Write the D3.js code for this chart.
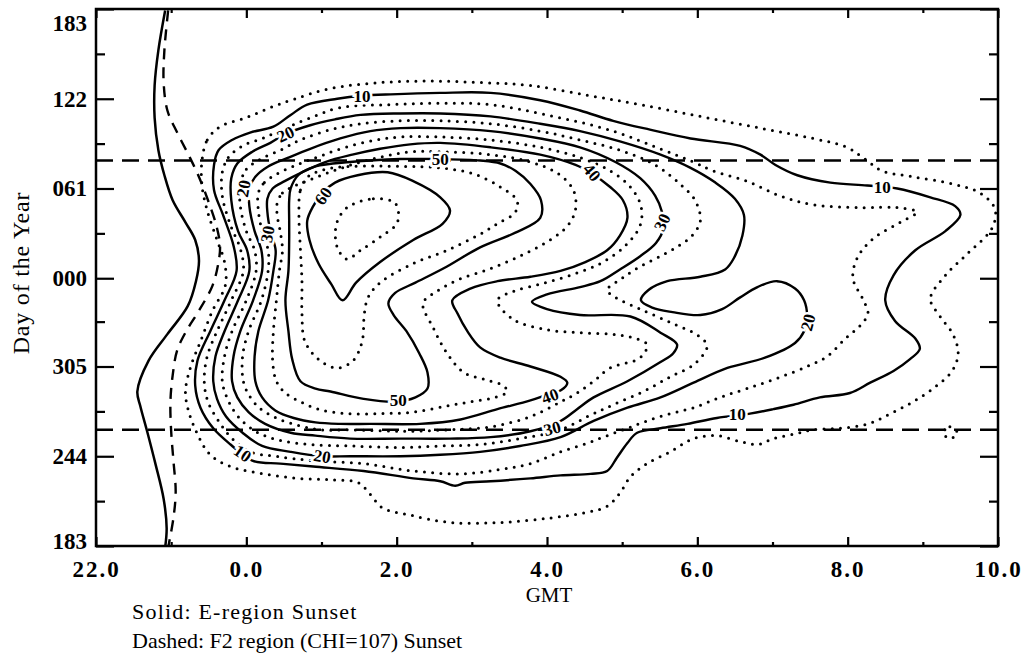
<!DOCTYPE html>
<html>
<head>
<meta charset="utf-8">
<script src="https://cdn.jsdelivr.net/npm/d3@7"></script>
<style>
  body { margin: 0; background: #fff; }
  text { font-family: "Liberation Serif", "DejaVu Serif", serif; fill: #000; }
</style>
</head>
<body>
<svg id="chart" width="1026" height="664"></svg>
<script>
// x = hours GMT (22.0 is written -2), y = day of year (days of the previous year negative: 305 -> -60)
var xTickVals = [-2, 0, 2, 4, 6, 8, 10];
var xTickText = ["22.0", "0.0", "2.0", "4.0", "6.0", "8.0", "10.0"];
var yTickVals = [-182, -121, -60, 0, 61, 122, 183];
var yTickText = ["183", "244", "305", "000", "061", "122", "183"];
var equinoxDays = [80, -103];

var eSunset = [[-1.08,182],[-1.17,155],[-1.22,131],[-1.22,109],[-1.17,87],[-1.09,70],[-0.98,53],[-0.81,38],[-0.68,26],[-0.63,12],[-0.67,-2],[-0.78,-19],[-1.05,-38],[-1.30,-56],[-1.45,-77],[-1.41,-87],[-1.32,-104],[-1.21,-126],[-1.10,-150],[-1.06,-170],[-1.08,-183]];
var f2Sunset = [[-1.04,182],[-1.09,155],[-1.10,133],[-1.05,114],[-0.92,99],[-0.77,84],[-0.64,70],[-0.51,53],[-0.40,36],[-0.35,22],[-0.37,11],[-0.45,-5],[-0.63,-22],[-0.80,-36],[-0.92,-49],[-0.98,-66],[-1.01,-84],[-1.00,-104],[-0.97,-124],[-0.94,-145],[-0.97,-163],[-1.04,-183]];

// contour lines, one array per level
var c05 = [[-0.59,80],[-0.52,94],[-0.35,103],[-0.01,109],[0.32,116],[0.65,122],[1.12,129],[1.78,133],[2.45,134],[3.11,133],[3.78,131],[4.58,124],[5.24,118],[6.04,110],[6.84,102],[7.54,95],[7.99,89],[8.23,81],[8.46,73],[8.87,69],[9.40,64],[9.76,58],[9.96,47],[9.92,34],[9.60,17],[9.30,2],[9.10,-14],[9.23,-26],[9.40,-38],[9.47,-51],[9.39,-63],[9.16,-74],[8.87,-84],[8.57,-92],[8.27,-99],[7.90,-102],[7.54,-103],[7.28,-106],[7.01,-109],[6.80,-113],[6.57,-111],[6.26,-107],[5.95,-109],[5.64,-118],[5.33,-126],[5.11,-135],[4.97,-146],[4.80,-155],[4.54,-159],[4.04,-163],[3.38,-166],[2.71,-166],[2.18,-161],[1.81,-156],[1.65,-147],[1.49,-139],[1.12,-137],[0.68,-136],[0.23,-133],[-0.21,-128],[-0.48,-120],[-0.65,-106],[-0.77,-90],[-0.81,-77],[-0.74,-60],[-0.61,-43],[-0.45,-22],[-0.28,-5],[-0.29,11],[-0.39,26],[-0.52,46],[-0.59,63]];
var c05b = [[9.27,-105],[9.36,-101],[9.46,-105],[9.36,-109]];
var c10 = [[-0.43,77],[-0.37,87],[-0.19,94],[0.05,99],[0.36,103],[0.59,111],[0.81,118],[1.21,122],[1.54,124],[1.92,125],[2.58,126],[3.25,126],[3.91,121],[4.44,114],[4.88,107],[5.37,101],[5.91,95],[6.57,90],[6.84,84],[7.04,77],[7.33,70],[7.77,65],[8.26,63],[8.66,61],[9.10,55],[9.43,49],[9.50,43],[9.30,32],[8.90,19],[8.61,2],[8.50,-15],[8.63,-29],[8.90,-41],[8.96,-48],[8.83,-55],[8.61,-63],[8.30,-71],[8.03,-78],[7.63,-81],[7.28,-86],[7.01,-89],[6.70,-92],[6.26,-95],[5.87,-99],[5.51,-102],[5.20,-105],[5.07,-112],[4.93,-122],[4.80,-131],[4.58,-133],[4.18,-134],[3.78,-136],[3.25,-138],[2.91,-139],[2.78,-141],[2.58,-138],[2.22,-136],[1.56,-131],[0.89,-128],[0.45,-126],[0.08,-124],[-0.21,-113],[-0.44,-102],[-0.61,-88],[-0.68,-73],[-0.65,-56],[-0.48,-36],[-0.29,-15],[-0.13,5],[-0.17,22],[-0.31,43],[-0.43,60]];
var c15 = [[-0.32,72],[-0.24,82],[-0.05,90],[0.21,95],[0.52,102],[0.85,109],[1.25,116],[1.92,118],[2.58,119],[3.25,118],[4.00,111],[4.88,100],[5.55,87],[5.95,79],[6.21,73],[6.66,66],[7.10,56],[7.54,50],[8.21,48],[8.66,48],[8.92,45],[8.70,38],[8.34,27],[8.13,14],[8.07,0],[8.21,-15],[8.27,-24],[8.17,-32],[7.97,-41],[7.73,-53],[7.46,-60],[7.06,-68],[6.66,-75],[6.30,-81],[5.95,-88],[5.64,-92],[5.33,-97],[5.07,-102],[4.80,-107],[4.54,-112],[4.18,-118],[3.78,-126],[3.38,-130],[2.85,-133],[2.22,-131],[1.56,-126],[0.89,-124],[0.39,-121],[0.05,-118],[-0.19,-109],[-0.37,-97],[-0.51,-84],[-0.56,-70],[-0.52,-53],[-0.39,-36],[-0.20,-15],[-0.04,5],[-0.08,20],[-0.21,36],[-0.32,56]];
var c20 = [[-0.20,68],[-0.12,78],[0.08,86],[0.32,92],[0.52,98],[0.85,104],[1.18,108],[1.52,111],[2.05,112],[2.58,112],[3.25,110],[3.91,105],[4.44,100],[4.97,93],[5.51,84],[5.91,75],[6.24,65],[6.50,54],[6.62,43],[6.60,29],[6.50,15],[6.37,6],[6.04,1],[5.60,-2],[5.35,-8],[5.25,-15],[5.40,-20],[5.67,-23],[6.04,-25],[6.33,-21],[6.57,-13],[6.80,-6],[7.06,-2],[7.30,-7],[7.42,-15],[7.46,-26],[7.42,-36],[7.30,-44],[6.90,-54],[6.40,-61],[5.95,-71],[5.51,-81],[5.07,-88],[4.62,-97],[4.18,-108],[3.64,-114],[3.11,-118],[2.58,-120],[2.05,-121],[1.38,-121],[1.01,-121],[0.59,-118],[0.21,-114],[-0.05,-105],[-0.27,-94],[-0.39,-82],[-0.44,-70],[-0.41,-53],[-0.29,-36],[-0.11,-15],[0.04,5],[0.01,19],[-0.11,32],[-0.20,53]];
var c25 = [[-0.08,64],[0,74],[0.19,81],[0.45,87],[0.72,94],[1.12,101],[1.52,105],[2.05,107],[2.58,107],[3.25,105],[3.91,100],[4.44,94],[4.97,87],[5.44,77],[5.77,64],[5.97,53],[6.04,39],[5.93,29],[5.75,22],[5.51,15],[5.24,8],[5.00,0],[4.80,-8],[4.91,-13],[5.24,-21],[5.64,-30],[6.01,-39],[6.13,-46],[5.97,-58],[5.64,-67],[5.28,-77],[4.88,-86],[4.58,-93],[4.18,-103],[3.64,-109],[3.11,-113],[2.58,-114],[2.05,-115],[1.38,-114],[0.85,-113],[0.43,-110],[0.12,-104],[-0.11,-94],[-0.25,-82],[-0.32,-70],[-0.29,-53],[-0.19,-36],[0,-15],[0.13,5],[0.11,19],[0,32],[-0.08,49]];
var c30 = [[0.04,61],[0.12,69],[0.29,76],[0.56,82],[0.85,88],[1.25,95],[1.65,100],[2.05,102],[2.58,102],[3.25,100],[3.91,95],[4.44,89],[4.91,79],[5.24,68],[5.44,56],[5.53,45],[5.55,34],[5.45,24],[5.24,15],[4.97,6],[4.71,-2],[4.44,-6],[4.00,-11],[3.80,-16],[4.00,-21],[4.44,-25],[5.11,-26],[5.51,-37],[5.73,-45],[5.68,-51],[5.51,-57],[5.07,-70],[4.62,-81],[4.40,-89],[4.18,-97],[3.78,-104],[3.25,-108],[2.71,-109],[2.05,-109],[1.38,-109],[0.92,-107],[0.59,-105],[0.25,-99],[0.03,-91],[-0.12,-81],[-0.19,-70],[-0.17,-53],[-0.08,-36],[0.09,-15],[0.21,5],[0.20,19],[0.11,32],[0.04,49]];
var c35 = [[0.16,58],[0.24,65],[0.41,71],[0.67,77],[0.98,83],[1.32,89],[1.72,94],[2.05,96],[2.58,96],[3.25,94],[3.91,89],[4.44,82],[4.84,73],[5.11,62],[5.25,49],[5.24,36],[5.04,22],[4.71,10],[4.31,2],[3.91,-4],[3.55,-9],[3.34,-15],[3.55,-28],[4.00,-35],[4.44,-37],[4.84,-38],[5.11,-40],[5.33,-45],[5.24,-54],[4.84,-61],[4.62,-70],[4.40,-78],[4.18,-84],[3.78,-94],[3.25,-101],[2.71,-103],[2.05,-104],[1.38,-103],[0.98,-103],[0.69,-100],[0.40,-95],[0.17,-88],[0.03,-79],[-0.04,-70],[-0.05,-53],[0.03,-36],[0.20,-15],[0.29,5],[0.29,19],[0.21,32],[0.16,46]];
var c40 = [[0.28,54],[0.35,61],[0.51,66],[0.74,72],[1.05,79],[1.41,84],[1.78,88],[2.18,91],[2.58,92],[3.25,89],[3.91,84],[4.38,77],[4.60,71],[4.84,62],[5.01,53],[5.07,41],[4.97,29],[4.80,19],[4.51,11],[4.18,5],[3.78,1],[3.34,-2],[2.98,-7],[2.74,-15],[2.81,-24],[2.94,-36],[3.11,-47],[3.38,-54],[3.78,-60],[4.18,-67],[4.27,-71],[4.19,-76],[4.01,-79],[3.78,-83],[3.34,-89],[2.85,-96],[2.31,-99],[1.65,-99],[1.25,-99],[0.92,-98],[0.63,-95],[0.39,-90],[0.21,-81],[0.12,-70],[0.11,-53],[0.16,-36],[0.29,-15],[0.36,5],[0.39,19],[0.32,32],[0.28,45]];
var c45 = [[0.41,51],[0.48,58],[0.61,62],[0.85,67],[1.16,73],[1.52,79],[1.85,83],[2.18,86],[2.58,86],[3.25,84],[3.78,79],[4.15,71],[4.35,60],[4.38,47],[4.28,36],[4.04,26],[3.64,15],[3.22,6],[2.82,-1],[2.53,-9],[2.35,-17],[2.49,-34],[2.67,-51],[2.89,-64],[3.18,-69],[3.42,-73],[3.47,-77],[3.31,-81],[2.98,-84],[2.65,-87],[2.22,-91],[1.78,-92],[1.32,-92],[0.96,-89],[0.72,-84],[0.52,-78],[0.40,-70],[0.35,-56],[0.36,-36],[0.40,-15],[0.44,5],[0.48,19],[0.45,32],[0.41,43]];
var c50 = [[0.57,53],[0.59,61],[0.69,70],[0.92,76],[1.38,79],[2.05,81],[2.58,81],[3.11,80],[3.38,78],[3.58,73],[3.78,64],[3.92,53],[3.91,41],[3.58,31],[3.11,21],[2.67,8],[2.25,-3],[1.98,-10],[1.89,-17],[1.96,-25],[2.13,-36],[2.30,-51],[2.41,-64],[2.41,-75],[2.25,-81],[1.98,-84],[1.56,-82],[1.12,-77],[0.92,-75],[0.72,-70],[0.61,-55],[0.56,-36],[0.52,-15],[0.56,5],[0.57,26],[0.57,39]];
var c55 = [[0.70,43],[0.72,60],[0.82,69],[1.05,74],[1.38,76],[2.05,76],[2.58,75],[3.02,71],[3.38,62],[3.60,53],[3.58,45],[3.34,37],[3.11,30],[2.67,19],[2.22,10],[1.78,-3],[1.62,-13],[1.57,-24],[1.54,-43],[1.42,-56],[1.21,-61],[0.98,-56],[0.78,-43],[0.74,-24],[0.74,-2],[0.72,19]];
var c60 = [[0.89,49],[1.01,58],[1.18,65],[1.48,70],[1.88,72],[2.22,66],[2.58,55],[2.71,46],[2.61,37],[2.22,26],[1.78,11],[1.46,-3],[1.28,-15],[1.13,-4],[0.96,10],[0.84,26],[0.81,39]];
var c65 = [[1.34,48],[1.69,54],[1.98,51],[2.01,38],[1.78,28],[1.52,19],[1.34,13],[1.21,21],[1.20,37]];

var labelText = ["10","20","50","60","40","30","10","20","10","30","40","50","20","10","20","30"];
var labelPos = [[1.54,124],[0.52,98],[2.58,81],[1.02,56],[4.60,72],[5.53,38],[8.46,62],[7.47,-30],[6.53,-92],[4.07,-102],[4.04,-80],[2.02,-83],[1.01,-121],[-0.05,-119],[-0.04,61],[0.28,30]];
var labelAngle = [0,-25,0,-55,50,-65,0,-75,0,-15,-20,0,10,35,-80,-80];

var svg = d3.select("#chart");
var x = d3.scaleLinear().domain([-2, 10]).range([96, 998]);
var y = d3.scaleLinear().domain([-182, 183]).range([546, 9]);

svg.append("clipPath").attr("id", "plotclip").append("rect")
  .attr("x", x(-2)).attr("y", y(183)).attr("width", x(10) - x(-2)).attr("height", y(-182) - y(183));

var plot = svg.append("g").attr("clip-path", "url(#plotclip)");

var closedLine = d3.line().x(d => x(d[0])).y(d => y(d[1])).curve(d3.curveCatmullRomClosed.alpha(0.5));
var openLine = d3.line().x(d => x(d[0])).y(d => y(d[1])).curve(d3.curveCatmullRom.alpha(0.5));

var contours = [
  {pts: c05, dotted: true}, {pts: c05b, dotted: true},
  {pts: c10, dotted: false}, {pts: c15, dotted: true},
  {pts: c20, dotted: false}, {pts: c25, dotted: true},
  {pts: c30, dotted: false}, {pts: c35, dotted: true},
  {pts: c40, dotted: false}, {pts: c45, dotted: true},
  {pts: c50, dotted: false}, {pts: c55, dotted: true},
  {pts: c60, dotted: false}, {pts: c65, dotted: true}
];

contours.forEach(function(c) {
  plot.append("path")
    .attr("d", closedLine(c.pts))
    .attr("fill", "none")
    .attr("stroke", "#000")
    .attr("stroke-width", c.dotted ? 3 : 2.4)
    .attr("stroke-dasharray", c.dotted ? "0 8.2" : null)
    .attr("stroke-linecap", "round");
});

// equinox lines
equinoxDays.forEach(function(d) {
  plot.append("line")
    .attr("x1", x(-2)).attr("x2", x(10))
    .attr("y1", y(d)).attr("y2", y(d))
    .attr("stroke", "#000").attr("stroke-width", 2.4)
    .attr("stroke-dasharray", "17 9");
});

// sunset curves
plot.append("path").attr("d", openLine(eSunset))
  .attr("fill", "none").attr("stroke", "#000").attr("stroke-width", 2.5);
plot.append("path").attr("d", openLine(f2Sunset))
  .attr("fill", "none").attr("stroke", "#000").attr("stroke-width", 2.4)
  .attr("stroke-dasharray", "11 8");

// contour labels
labelText.forEach(function(t, i) {
  plot.append("text")
    .attr("transform", "translate(" + x(labelPos[i][0]) + "," + y(labelPos[i][1]) + ") rotate(" + labelAngle[i] + ")")
    .attr("text-anchor", "middle")
    .attr("dy", "0.35em")
    .attr("font-size", 17)
    .attr("font-weight", "bold")
    .attr("stroke", "#fff").attr("stroke-width", 5)
    .attr("paint-order", "stroke")
    .text(t);
});

// axes
var xMinor = d3.range(-1, 10, 2);
var yMinor = [-151.5, -90.5, -29.5, 30.5, 91.5, 152.5];

var xAxis = svg.append("g").attr("transform", "translate(0," + y(-182) + ")")
  .call(d3.axisBottom(x).tickValues(xTickVals).tickFormat((d, i) => xTickText[i]).tickSize(-9).tickPadding(15));
var yAxis = svg.append("g").attr("transform", "translate(" + x(-2) + ",0)")
  .call(d3.axisLeft(y).tickValues(yTickVals).tickFormat((d, i) => yTickText[i]).tickSize(-18).tickPadding(9));
svg.append("g").attr("transform", "translate(0," + y(-182) + ")")
  .call(d3.axisBottom(x).tickValues(xMinor).tickFormat("").tickSize(-4));
svg.append("g").attr("transform", "translate(" + x(-2) + ",0)")
  .call(d3.axisLeft(y).tickValues(yMinor).tickFormat("").tickSize(-9));
svg.append("g").attr("transform", "translate(0," + y(183) + ")")
  .call(d3.axisTop(x).tickValues(xTickVals).tickFormat("").tickSize(-9));
svg.append("g").attr("transform", "translate(0," + y(183) + ")")
  .call(d3.axisTop(x).tickValues(xMinor).tickFormat("").tickSize(-4));
svg.append("g").attr("transform", "translate(" + x(10) + ",0)")
  .call(d3.axisRight(y).tickValues(yTickVals).tickFormat("").tickSize(-18));
svg.append("g").attr("transform", "translate(" + x(10) + ",0)")
  .call(d3.axisRight(y).tickValues(yMinor).tickFormat("").tickSize(-9));

svg.selectAll(".domain").remove();
svg.selectAll(".tick line").attr("stroke", "#000").attr("stroke-width", 2.2);
xAxis.selectAll("text").attr("font-size", 23).attr("font-weight", "bold").attr("letter-spacing", 2)
  .attr("font-family", "'Liberation Serif', serif");
yAxis.selectAll("text").attr("font-size", 23).attr("font-weight", "bold")
  .attr("font-family", "'Liberation Serif', serif")
  .attr("dy", (d) => d === 183 ? "0.95em" : (d === -182 ? "0.1em" : "0.32em"));

svg.append("rect")
  .attr("x", x(-2)).attr("y", y(183))
  .attr("width", x(10) - x(-2)).attr("height", y(-182) - y(183))
  .attr("fill", "none").attr("stroke", "#000").attr("stroke-width", 2.5);

// titles
svg.append("text")
  .attr("transform", "translate(29,273) rotate(-90)")
  .attr("text-anchor", "middle")
  .attr("font-size", 24)
  .attr("letter-spacing", 0.8)
  .text("Day of the Year");
svg.append("text")
  .attr("x", 549).attr("y", 602)
  .attr("text-anchor", "middle")
  .attr("font-size", 21)
  .text("GMT");
svg.append("text")
  .attr("x", 132).attr("y", 619)
  .attr("font-size", 22)
  .attr("letter-spacing", 1.2)
  .text("Solid: E-region Sunset");
svg.append("text")
  .attr("x", 132).attr("y", 648)
  .attr("font-size", 22)
  .text("Dashed: F2 region (CHI=107) Sunset");
</script>
</body>
</html>
